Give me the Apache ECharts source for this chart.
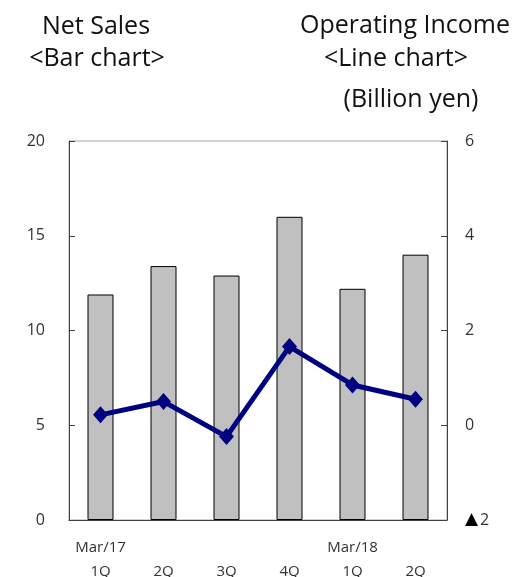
<!DOCTYPE html>
<html>
<head>
<meta charset="utf-8">
<script src="https://cdn.jsdelivr.net/npm/echarts@6/dist/echarts.min.js"></script>
<style>
  html, body { margin: 0; padding: 0; background: #fff; }
  #chart { width: 525px; height: 577px; }
</style>
</head>
<body>
<div id="chart"></div>
<script>
// quarters, with the fiscal year shown over the first quarter
const years = ['Mar/17', '', '', '', 'Mar/18', ''];
const quarters = ['1Q', '2Q', '3Q', '4Q', '1Q', '2Q'];
// billion yen
const netSales = [11.9, 13.4, 12.9, 16.0, 12.2, 14.0];
const operatingIncome = [0.22, 0.5, -0.24, 1.66, 0.85, 0.55];

const font = '"Open Sans", "Noto Sans", sans-serif';
const axisColor = '#404040';
const labelColor = '#333';
const titleColor = '#111';

const chart = echarts.init(document.getElementById('chart'), null, { renderer: 'canvas' });

function heading(text, x, y) {
    return {
        type: 'text',
        x, y,
        style: {
            text, fill: titleColor, font: '25px ' + font,
            textAlign: 'center', textVerticalAlign: 'middle',
        },
    };
}

chart.setOption({
    animation: false,
    backgroundColor: '#fff',
    textStyle: { fontFamily: font },
    graphic: [
        heading('Net Sales', 96, 27),
        heading('<Bar chart>', 97, 59),
        heading('Operating Income', 405, 26),
        heading('<Line chart>', 396, 59),
        heading('(Billion yen)', 411, 100),
    ],
    // labels hang below the container edge on purpose, keep the grid where it is
    grid: {
        left: 69, right: 78, top: 141, bottom: 57,
        show: true, borderColor: '#a6a6a6', borderWidth: 1,
        containLabel: false, outerBoundsMode: 'none',
    },
    xAxis: {
        type: 'category',
        data: quarters.map((q, i) => i),
        boundaryGap: true,
        axisLine: { lineStyle: { color: axisColor, width: 1 } },
        axisTick: { inside: true, length: 6, interval: 0, lineStyle: { color: axisColor } },
        axisLabel: {
            interval: 0,
            margin: 16,
            color: labelColor,
            fontSize: 15,
            lineHeight: 24,
            fontFamily: font,
            formatter: (v) => years[v] + '\n' + quarters[v],
        },
        splitLine: { show: false },
    },
    yAxis: [
        {
            type: 'value',
            min: 0, max: 20, interval: 5,
            axisLine: { show: true, lineStyle: { color: axisColor } },
            axisTick: { show: true, inside: true, length: 6, lineStyle: { color: axisColor } },
            axisLabel: { margin: 24, color: labelColor, fontSize: 16, fontFamily: font },
            splitLine: { show: false },
        },
        {
            type: 'value',
            min: -2, max: 6, interval: 2,
            position: 'right',
            axisLine: { show: true, lineStyle: { color: axisColor } },
            axisTick: { show: true, inside: true, length: 6, lineStyle: { color: axisColor } },
            axisLabel: {
                margin: 18, color: labelColor, fontSize: 16, fontFamily: font,
                formatter: (v) => (v < 0 ? '{tri|▲}' + Math.abs(v) : String(v)),
                rich: { tri: { fontFamily: '"DejaVu Sans"', fontSize: 17, color: '#000', padding: [0, 2, 0, 0] } },
            },
            splitLine: { show: false },
        },
    ],
    series: [
        {
            type: 'bar',
            yAxisIndex: 0,
            data: netSales,
            barWidth: 26,
            itemStyle: { color: '#c0c0c0', borderColor: '#000', borderWidth: 1 },
        },
        {
            type: 'line',
            yAxisIndex: 1,
            data: operatingIncome,
            symbol: 'diamond',
            symbolSize: [15, 17],
            lineStyle: { color: '#000080', width: 5 },
            itemStyle: { color: '#000080' },
        },
    ],
});
</script>
</body>
</html>
